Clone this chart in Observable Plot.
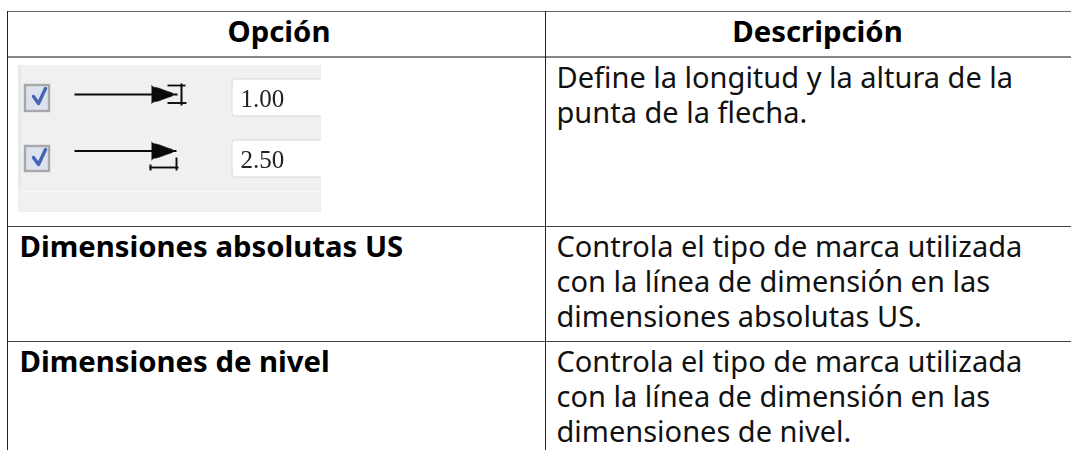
<!DOCTYPE html>
<html><head><meta charset="utf-8">
<script src="https://cdn.jsdelivr.net/npm/d3@7"></script>
<script src="https://cdn.jsdelivr.net/npm/@observablehq/plot@0.6"></script>
<style>html,body{margin:0;padding:0;background:#fff}svg{display:block}</style>
</head><body><div id="chart"></div>
<script>
const headers = ["Opción", "Descripción"];
const optionLabels = ["", "Dimensiones absolutas US", "Dimensiones de nivel"];
const descriptionLines = [
  ["Define la longitud y la altura de la", "punta de la flecha."],
  ["Controla el tipo de marca utilizada", "con la línea de dimensión en las", "dimensiones absolutas US."],
  ["Controla el tipo de marca utilizada", "con la línea de dimensión en las", "dimensiones de nivel."]
];
const inputValues = ["1.00", "2.50"];

// layout of the table, separate from its content
const L = {left:7, right:1071, col:545, top:11, head:56.5, rows:[56.5,226,341], bottom:450,
  headX:[278.5,817], headY:32, labelX:19, descX:556, lineH:35, firstLine:21.5, bold:29.3, body:29};
const FONT = "'Noto Sans'";
const soft = (px) => (index, scales, values, dims, ctx, next) => {
  const g = next(index, scales, values, dims, ctx);
  g.style.filter = `blur(${px}px)`;
  return g;
};

const headerData = headers.map((t,i)=>({t, x:L.headX[i], y:L.headY}));
const labelData = optionLabels.map((t,i)=>({t, x:L.labelX, y:L.rows[i]+L.firstLine})).filter(d=>d.t);
const descData = descriptionLines.flatMap((ls,i)=>ls.map((t,j)=>({t, x:L.descX, y:L.rows[i]+L.firstLine+j*L.lineH})));

// dialog screenshot embedded in the first row
const rows2 = [{box:[85,111],field:[79,116],ty:98.5},{box:[146,171],field:[140,177],ty:159}];
const inputs = inputValues.map((t,i)=>({t, x:240, y:rows2[i].ty}));
const ink = "#0a0a0a";
const glyphSegs = [
  [74,94,152,94,2],[172,94,177,94,2],
  [167,85,185,85,1.8],[167,102.5,186,102.5,1.9],[181,83,181,105,2],
  [74,150.5,152,150.5,2],[170,150.5,176,150.5,2],[149,167,178,167,1.9],[176,157,176,170,1.9],[150,164,150,170,2]
];
const arrowShape = [[151,-9],[153,-7.5],[158,-6.5],[166,-3.5],[172,-1.5],[172,1.5],[166,3.5],[158,6.5],[153,7.5],[151,9]];
const triData = [94,150.5].flatMap((c,k)=>arrowShape.map(q=>({x:q[0],y:c+q[1],k})));

const plot = Plot.plot({
  width:1071, height:450, margin:0,
  x:{domain:[0,1071],range:[0,1071],axis:null},
  y:{domain:[0,450],range:[0,450],axis:null},
  style:{background:"#fff"},
  marks:[
    Plot.rect([0],{x1:18,x2:321,y1:65,y2:212,fill:"#f0f0f0"}),
    Plot.ruleY([0],{y:191,x1:22,x2:321,stroke:"#f8fafa",strokeWidth:1.6}),
    Plot.ruleX([0],{x:19,y1:65,y2:188,stroke:"#dde7f0",strokeWidth:1.6}),
    Plot.rect(rows2,{x1:232,x2:325,y1:d=>d.field[0],y2:d=>d.field[1],fill:"#fff",stroke:"#d8d8d8",strokeWidth:1,rx:3,render:soft(0.4)}),
    Plot.rect([0],{x1:321,x2:326,y1:70,y2:190,fill:"#fff"}),
    Plot.rect(rows2,{x1:25,x2:49,y1:d=>d.box[0],y2:d=>d.box[1],fill:"#dce2ee",stroke:"#a8a8a8",strokeWidth:2.4,render:soft(0.4)}),
    Plot.line(rows2.flatMap((d,k)=>[[33,11],[38,18],[45,3]].map(q=>({x:q[0],y:d.box[0]+q[1],k}))),{x:"x",y:"y",z:"k",stroke:"#4464b4",strokeWidth:3.4,curve:"linear",render:soft(0.4)}),
    Plot.link(glyphSegs,{x1:d=>d[0],y1:d=>d[1],x2:d=>d[2],y2:d=>d[3],stroke:ink,strokeWidth:d=>d[4],render:soft(0.3)}),
    Plot.line(triData,{x:"x",y:"y",z:"k",fill:ink,stroke:ink,strokeWidth:0.5,render:soft(0.3)}),
    Plot.text(inputs,{x:"x",y:"y",text:"t",textAnchor:"start",fontFamily:"'Liberation Serif'",fontSize:25,fill:"#222",render:soft(0.4)}),

    Plot.ruleY([L.top],{x1:L.left,x2:L.right,stroke:"#666",strokeWidth:1.2}),
    Plot.ruleY([L.head],{x1:L.left,x2:L.right,stroke:"#111",strokeWidth:1}),
    Plot.ruleY(L.rows.slice(1),{x1:L.left,x2:L.right,stroke:"#444",strokeWidth:1.2}),
    Plot.ruleX([L.left,L.col],{y1:L.top,y2:L.bottom,stroke:"#222",strokeWidth:1}),

    Plot.text(headerData,{x:"x",y:"y",text:"t",fontFamily:FONT,fontWeight:700,fontSize:L.bold,fill:"#000"}),
    Plot.text(labelData,{x:"x",y:"y",text:"t",textAnchor:"start",fontFamily:FONT,fontWeight:700,fontSize:L.bold,fill:"#000"}),
    Plot.text(descData,{x:"x",y:"y",text:"t",textAnchor:"start",fontFamily:FONT,fontSize:L.body,fill:"#111"})
  ]
});
document.getElementById("chart").append(plot);
</script></body></html>
